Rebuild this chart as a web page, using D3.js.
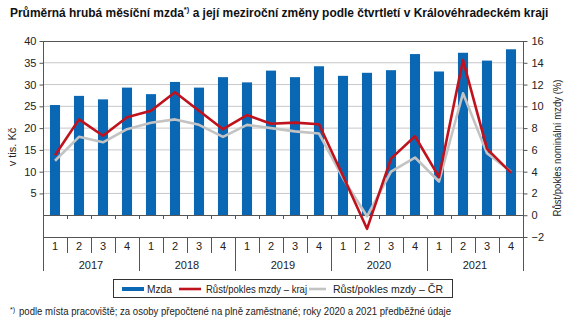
<!DOCTYPE html>
<html><head><meta charset="utf-8">
<script src="https://cdn.jsdelivr.net/npm/d3@7"></script>
<style>
body{margin:0;background:#fff;}
svg{display:block;font-family:"Liberation Sans",Arial,sans-serif;}
</style></head>
<body><svg id="c" width="567" height="326"></svg>
<script>
const years = ["2017","2018","2019","2020","2021"];
const quarters = ["1","2","3","4"];
const wage = [25.3,27.4,26.6,29.3,27.8,30.6,29.3,31.7,30.5,33.2,31.7,34.2,32.0,32.7,33.3,37.0,33.0,37.3,35.5,38.1];
const growthRegion = [5.5,8.8,7.3,9.0,9.6,11.3,9.6,7.9,9.2,8.4,8.5,8.35,3.6,-1.25,5.2,7.25,3.5,14.25,6.1,3.9];
const growthCR = [5.0,7.2,6.7,7.9,8.5,8.8,8.3,7.2,8.3,8.0,7.7,7.5,3.4,-0.1,4.0,5.3,3.1,11.2,5.7,4.0];
const leftTicks = [5,10,15,20,25,30,35,40];
const rightTicks = [-2,0,2,4,6,8,10,12,14,16];

const svg = d3.select("#c");
const L = 43, R = 523, T = 41, B = 237;
const cats = d3.range(wage.length);
const x = d3.scaleBand().domain(cats).range([L, R]).paddingInner(0.58).paddingOuter(0.29);
const xc = i => x(i) + x.bandwidth()/2;
const yL = d3.scaleLinear().domain([-5,40]).range([B,T]);
const yR = d3.scaleLinear().domain([-2,16]).range([B,T]);
const axisCol = "#555";

function fitWidth(sel, x0, width){
  const w = sel.node().getBBox().width;
  const s = width / w;
  sel.attr("transform", `translate(${x0},0) scale(${s},1) translate(${-x0},0)`);
}

// title
const title = svg.append("text").attr("x",10).attr("y",17).attr("font-size",12.6).attr("font-weight","bold").attr("fill","#111");
title.append("tspan").text("Průměrná hrubá měsíční mzda");
title.append("tspan").attr("font-size",8).attr("dy",-5).text("*)");
title.append("tspan").attr("dy",5).text(" a její meziroční změny podle čtvrtletí v Královéhradeckém kraji");
fitWidth(title, 10, 539);

// gridlines
svg.append("g").selectAll("line").data(leftTicks.filter(d=>d<40)).join("line")
  .attr("x1",L).attr("x2",R).attr("y1",d=>yL(d)).attr("y2",d=>yL(d))
  .attr("stroke","#c8c8c8").attr("stroke-width",1);

// bars
svg.append("g").selectAll("rect").data(wage).join("rect")
  .attr("x",(d,i)=>x(i)).attr("width",x.bandwidth())
  .attr("y",d=>yL(d)).attr("height",d=>yL(0)-yL(d)).attr("fill","#0a67b4");

// frame lines
svg.append("line").attr("x1",L).attr("x2",R).attr("y1",T+0.5).attr("y2",T+0.5).attr("stroke",axisCol);
svg.append("line").attr("x1",L).attr("x2",R).attr("y1",Math.round(yL(0))+0.5).attr("y2",Math.round(yL(0))+0.5).attr("stroke",axisCol);
svg.append("line").attr("x1",L).attr("x2",R).attr("y1",B+0.5).attr("y2",B+0.5).attr("stroke",axisCol);

// small ticks at zero line
svg.append("g").selectAll("line").data(d3.range(wage.length+1)).join("line")
  .attr("x1",i=>Math.round(L + i*(R-L)/wage.length)+0.5).attr("x2",i=>Math.round(L + i*(R-L)/wage.length)+0.5)
  .attr("y1",Math.round(yL(0))).attr("y2",Math.round(yL(0))+4).attr("stroke",axisCol);

// left axis
const gL = svg.append("g").attr("transform",`translate(${L+0.5},0)`)
  .call(d3.axisLeft(yL).tickValues(leftTicks).tickSize(4).tickPadding(3).tickFormat(d3.format("d")));
gL.select(".domain").remove();
gL.selectAll("line").attr("stroke",axisCol);
gL.selectAll("text").attr("font-size",11).attr("fill","#222").attr("font-family","Liberation Sans, Arial, sans-serif");
svg.append("line").attr("x1",L+0.5).attr("x2",L+0.5).attr("y1",T).attr("y2",271).attr("stroke",axisCol);

// right axis
const gR = svg.append("g").attr("transform",`translate(${R+0.5},0)`)
  .call(d3.axisRight(yR).tickValues(rightTicks).tickSize(4).tickPadding(4).tickFormat(d3.format("d")));
gR.select(".domain").remove();
gR.selectAll("line").attr("stroke",axisCol);
gR.selectAll("text").attr("font-size",11).attr("fill","#222").attr("font-family","Liberation Sans, Arial, sans-serif");
svg.append("line").attr("x1",R+0.5).attr("x2",R+0.5).attr("y1",T).attr("y2",271).attr("stroke",axisCol);

// axis titles
svg.append("text").attr("transform",`translate(16,147) rotate(-90)`).attr("text-anchor","middle")
  .attr("font-size",11).attr("fill","#222").text("v tis. Kč");
svg.append("text").attr("transform",`translate(561,148) rotate(-90)`).attr("text-anchor","middle")
  .attr("font-size",11).attr("fill","#222").attr("textLength",137).attr("lengthAdjust","spacingAndGlyphs")
  .text("Růst/pokles nominální mzdy (%)");

// category table
const catLabels = cats.map(i=>quarters[i%4]);
svg.append("g").selectAll("text").data(catLabels).join("text")
  .attr("x",(d,i)=>xc(i)).attr("y",250).attr("text-anchor","middle").attr("font-size",11).attr("fill","#222").text(d=>d);
svg.append("g").selectAll("line").data(d3.range(1,wage.length)).join("line")
  .attr("x1",i=>Math.round(L + i*(R-L)/wage.length)+0.5).attr("x2",i=>Math.round(L + i*(R-L)/wage.length)+0.5)
  .attr("y1",B).attr("y2",i=>i%4===0?271:253).attr("stroke",axisCol);
svg.append("g").selectAll("text").data(years).join("text")
  .attr("x",(d,j)=>(xc(j*4)+xc(j*4+3))/2).attr("y",269).attr("text-anchor","middle").attr("font-size",11).attr("fill","#222").text(d=>d);

// lines
const lineR = d3.line().x((d,i)=>xc(i)).y(d=>yR(d));
svg.append("path").datum(growthCR).attr("d",lineR).attr("fill","none").attr("stroke","#c3c3c3").attr("stroke-width",2.6).attr("stroke-linejoin","round");
svg.append("path").datum(growthRegion).attr("d",lineR).attr("fill","none").attr("stroke","#c0121d").attr("stroke-width",2.6).attr("stroke-linejoin","round");

// legend
const lg = svg.append("g");
lg.append("rect").attr("x",113.5).attr("y",279.5).attr("width",339).attr("height",18).attr("fill","#fff").attr("stroke","#333");
const items = [
  {label:"Mzda", color:"#0a67b4", x1:122, x2:144, w:4, tx:147, tw:25},
  {label:"Růst/pokles mzdy – kraj", color:"#c0121d", x1:179, x2:201, w:2.6, tx:206, tw:101},
  {label:"Růst/pokles mzdy – ČR", color:"#c3c3c3", x1:309, x2:326, w:2.6, tx:333, tw:110}
];
items.forEach(it=>{
  lg.append("line").attr("x1",it.x1).attr("x2",it.x2).attr("y1",289).attr("y2",289).attr("stroke",it.color).attr("stroke-width",it.w);
  lg.append("text").attr("x",it.tx).attr("y",292.5).attr("font-size",11).attr("fill","#222")
    .attr("textLength",it.tw).attr("lengthAdjust","spacingAndGlyphs").text(it.label);
});

// footnote
svg.append("text").attr("x",10).attr("y",312).attr("font-size",7).attr("fill","#222").text("*)");
svg.append("text").attr("x",19).attr("y",315).attr("font-size",10).attr("fill","#222")
  .attr("textLength",432).attr("lengthAdjust","spacingAndGlyphs")
  .text("podle místa pracoviště; za osoby přepočtené na plně zaměstnané; roky 2020 a 2021 předběžné údaje");
</script></body></html>
